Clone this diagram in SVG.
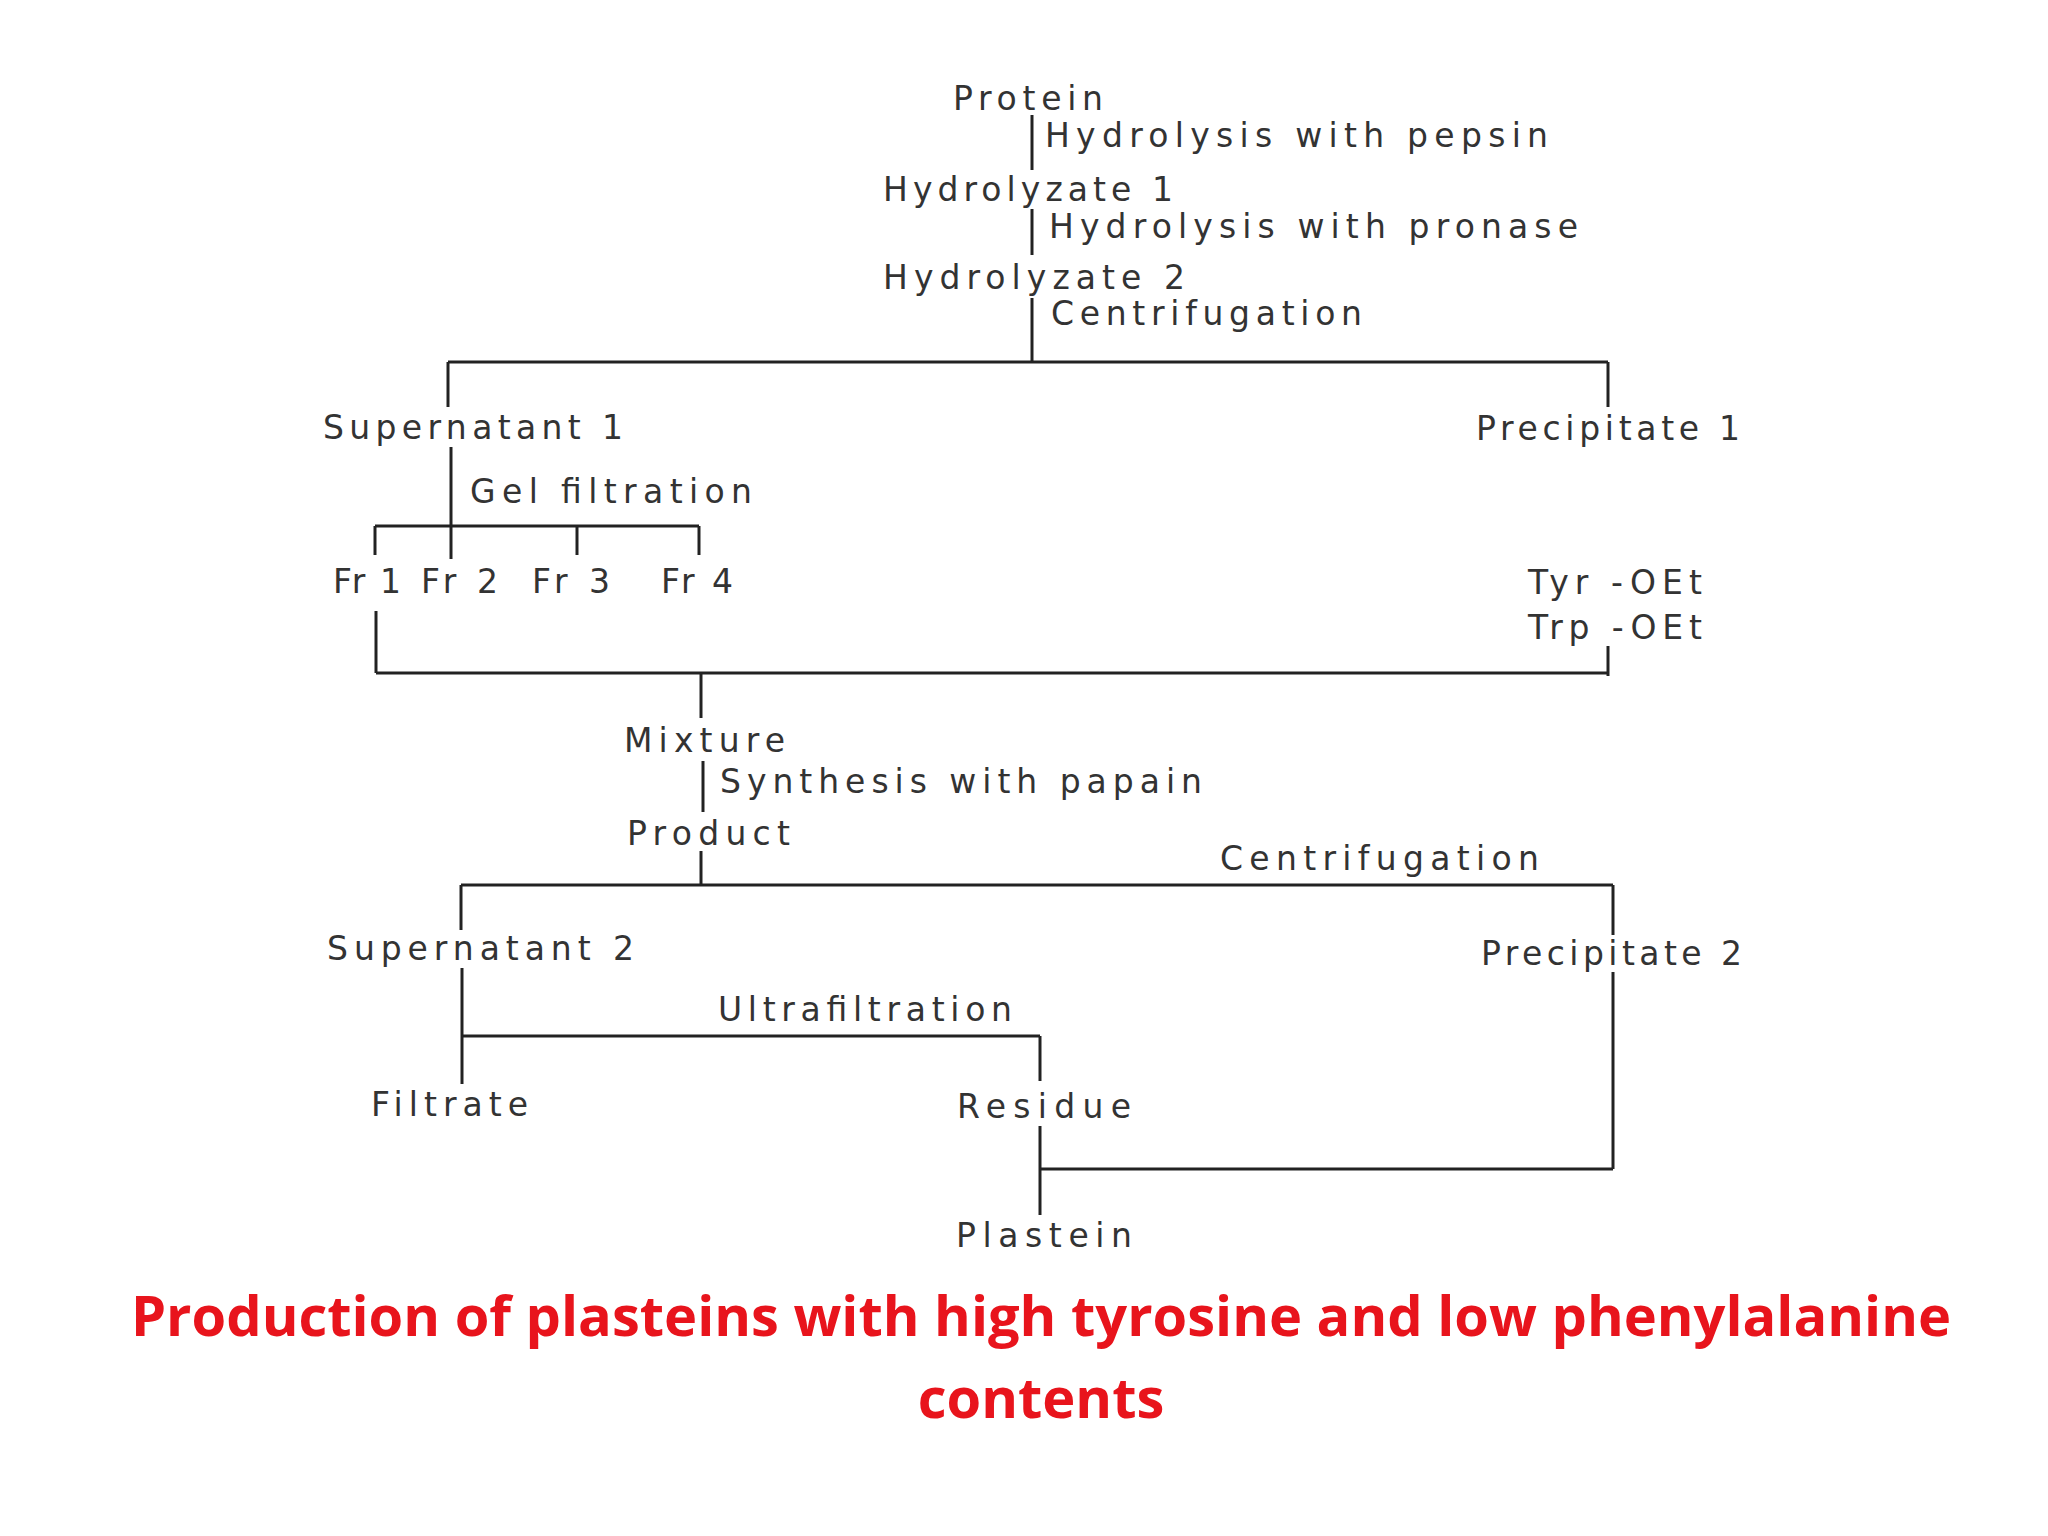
<svg xmlns="http://www.w3.org/2000/svg" width="2048" height="1536" viewBox="0 0 2048 1536">
<style>
.t{font-family:"DejaVu Sans","Liberation Sans",sans-serif;font-size:33px;fill:#333;dominant-baseline:central}
.c line{stroke:#222;stroke-width:3}
.ti{font-family:"Open Sans","Liberation Sans",sans-serif;font-weight:bold;font-size:56px;fill:#e8141c;text-anchor:middle}
</style>
<rect width="2048" height="1536" fill="#fff"/>
<g class="c" id="connectors">
<line x1="1032" y1="115" x2="1032" y2="170"/>
<line x1="1032" y1="209" x2="1032" y2="255"/>
<line x1="1032" y1="298" x2="1032" y2="362"/>
<line x1="448" y1="362" x2="1608" y2="362"/>
<line x1="448" y1="362" x2="448" y2="407"/>
<line x1="1608" y1="362" x2="1608" y2="407"/>
<line x1="451" y1="447" x2="451" y2="559"/>
<line x1="375" y1="526" x2="699" y2="526"/>
<line x1="375" y1="526" x2="375" y2="555"/>
<line x1="577" y1="526" x2="577" y2="555"/>
<line x1="699" y1="526" x2="699" y2="555"/>
<line x1="376" y1="611" x2="376" y2="673"/>
<line x1="376" y1="673" x2="1608" y2="673"/>
<line x1="1608" y1="646" x2="1608" y2="676"/>
<line x1="701" y1="673" x2="701" y2="718"/>
<line x1="703" y1="761" x2="703" y2="812"/>
<line x1="701" y1="851" x2="701" y2="885"/>
<line x1="461" y1="885" x2="1613" y2="885"/>
<line x1="461" y1="885" x2="461" y2="930"/>
<line x1="1613" y1="885" x2="1613" y2="935"/>
<line x1="1613" y1="972" x2="1613" y2="1169"/>
<line x1="462" y1="968" x2="462" y2="1084"/>
<line x1="462" y1="1036" x2="1040" y2="1036"/>
<line x1="1040" y1="1036" x2="1040" y2="1081"/>
<line x1="1040" y1="1126" x2="1040" y2="1215"/>
<line x1="1040" y1="1169" x2="1613" y2="1169"/>
</g>
<g id="protein"><text class="t" x="953" y="98" textLength="150" lengthAdjust="spacing">Protein</text></g>
<g id="l1"><text class="t" x="1045" y="135" textLength="503" lengthAdjust="spacing">Hydrolysis with pepsin</text></g>
<g id="h1"><text class="t" x="883" y="189" textLength="290" lengthAdjust="spacing">Hydrolyzate 1</text></g>
<g id="l2"><text class="t" x="1049" y="226" textLength="529" lengthAdjust="spacing">Hydrolysis with pronase</text></g>
<g id="h2"><text class="t" x="883" y="277" textLength="302" lengthAdjust="spacing">Hydrolyzate 2</text></g>
<g id="l3"><text class="t" x="1051" y="313" textLength="311" lengthAdjust="spacing">Centrifugation</text></g>
<g id="s1"><text class="t" x="323" y="427" textLength="300" lengthAdjust="spacing">Supernatant 1</text></g>
<g id="p1"><text class="t" x="1476" y="428" textLength="264" lengthAdjust="spacing">Precipitate 1</text></g>
<g id="l4"><text class="t" x="470" y="491" textLength="282" lengthAdjust="spacing">Gel filtration</text></g>
<g id="fr1"><text class="t" x="333" y="581" textLength="68" lengthAdjust="spacing">Fr 1</text></g>
<g id="fr2"><text class="t" x="421" y="581" textLength="77" lengthAdjust="spacing">Fr 2</text></g>
<g id="fr3"><text class="t" x="532" y="581" textLength="78" lengthAdjust="spacing">Fr 3</text></g>
<g id="fr4"><text class="t" x="661" y="581" textLength="72" lengthAdjust="spacing">Fr 4</text></g>
<g id="tyr"><text class="t" x="1528" y="582" textLength="174" lengthAdjust="spacing">Tyr -OEt</text><text class="t" x="1528" y="627" textLength="174" lengthAdjust="spacing">Trp -OEt</text></g>
<g id="mix"><text class="t" x="624" y="740" textLength="161" lengthAdjust="spacing">Mixture</text></g>
<g id="l5"><text class="t" x="720" y="781" textLength="482" lengthAdjust="spacing">Synthesis with papain</text></g>
<g id="prod"><text class="t" x="627" y="833" textLength="163" lengthAdjust="spacing">Product</text></g>
<g id="l6"><text class="t" x="1220" y="858" textLength="319" lengthAdjust="spacing">Centrifugation</text></g>
<g id="s2"><text class="t" x="327" y="948" textLength="307" lengthAdjust="spacing">Supernatant 2</text></g>
<g id="p2"><text class="t" x="1481" y="953" textLength="261" lengthAdjust="spacing">Precipitate 2</text></g>
<g id="l7"><text class="t" x="718" y="1009" textLength="294" lengthAdjust="spacing">Ultrafiltration</text></g>
<g id="filt"><text class="t" x="371" y="1104" textLength="157" lengthAdjust="spacing">Filtrate</text></g>
<g id="res"><text class="t" x="957" y="1106" textLength="174" lengthAdjust="spacing">Residue</text></g>
<g id="plast"><text class="t" x="956" y="1235" textLength="176" lengthAdjust="spacing">Plastein</text></g>
<g id="title">
<text class="ti" x="1041" y="1336">Production of plasteins with high tyrosine and low phenylalanine</text>
<text class="ti" x="1041" y="1418">contents</text>
</g>
</svg>
